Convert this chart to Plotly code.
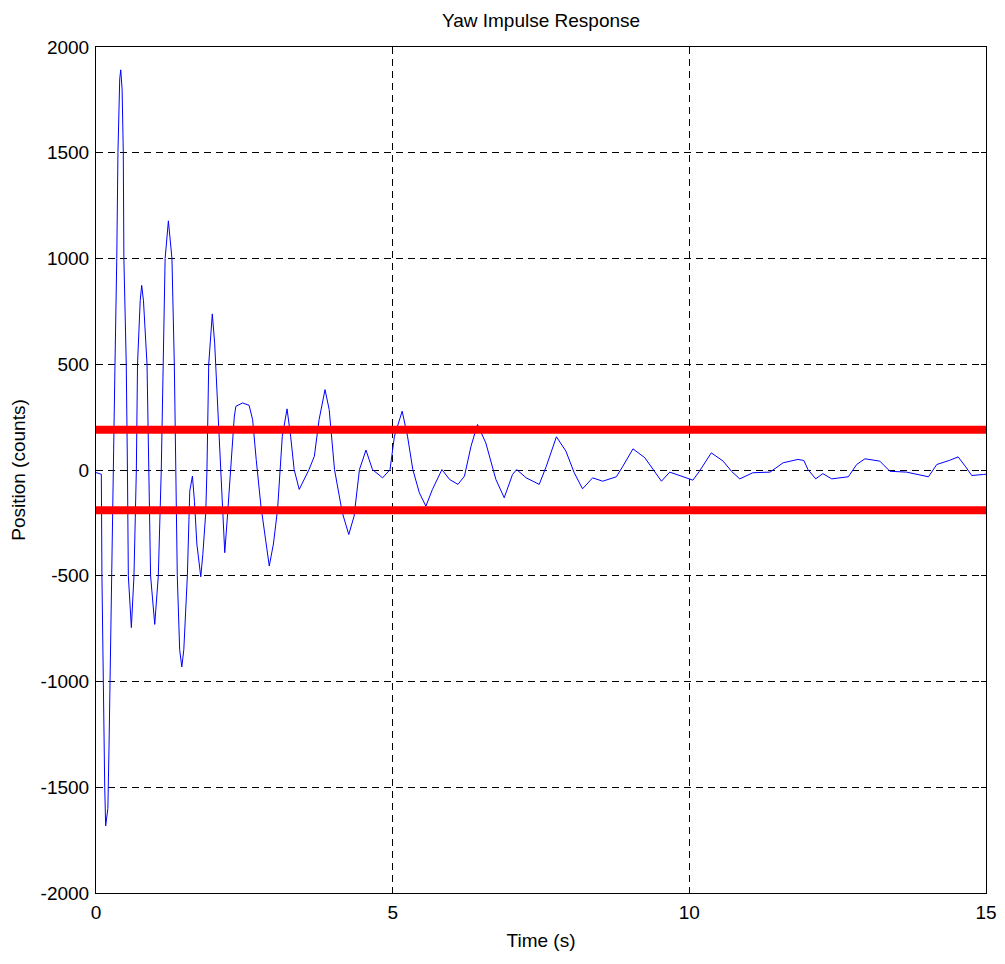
import plotly.graph_objects as go

# Time (s) and position (counts)
time_s = [
    0.00, 0.05, 0.09, 0.10, 0.12, 0.147, 0.163, 0.20, 0.22, 0.235, 0.265, 0.29,
    0.32, 0.35, 0.37, 0.40, 0.417, 0.44, 0.46, 0.47, 0.51, 0.53,
    0.545, 0.596, 0.64, 0.68, 0.70, 0.745, 0.77, 0.80, 0.86, 0.89,
    0.92, 0.99, 1.05, 1.10, 1.13, 1.165, 1.22, 1.28, 1.32, 1.34,
    1.37, 1.41, 1.446, 1.48, 1.54, 1.58, 1.625, 1.66, 1.70, 1.766, 1.80, 1.85,
    1.87, 1.90, 1.96, 2.00, 2.05, 2.10, 2.17, 2.22, 2.27, 2.33, 2.357, 2.47,
    2.58, 2.64, 2.70, 2.78, 2.92, 2.99, 3.06, 3.10, 3.14, 3.22, 3.28, 3.34,
    3.425, 3.59, 3.68, 3.76, 3.86, 3.93, 4.02, 4.15, 4.26, 4.35, 4.44, 4.55,
    4.66, 4.83, 4.955, 5.03, 5.16, 5.25, 5.34, 5.45, 5.56, 5.67, 5.83, 5.96,
    6.10, 6.21, 6.32, 6.43, 6.57, 6.74, 6.88, 7.02, 7.09, 7.25, 7.47, 7.59,
    7.76, 7.92, 8.06, 8.20, 8.37, 8.54, 8.77, 8.88, 9.05, 9.25, 9.39, 9.53,
    9.67, 9.84, 10.06, 10.17, 10.37, 10.57, 10.71, 10.85, 11.07, 11.36, 11.58,
    11.83, 11.93, 12.00, 12.13, 12.25, 12.40, 12.68, 12.82, 12.96, 13.21, 13.38,
    13.66, 14.03, 14.17, 14.39, 14.53, 14.65, 14.76, 14.96, 15.00,
]
position_counts = [
    -12, -15, -20, -500, -1000, -1500, -1683, -1600, -1300, -1000, -500, 0,
    500, 1000, 1500, 1850, 1892, 1800, 1500, 1000, 500, 0,
    -500, -745, -500, 0, 500, 800, 873, 800, 500, 0,
    -500, -730, -500, 0, 500, 1000, 1178, 1000, 500, 0,
    -500, -850, -931, -850, -500, -100, -29, -150, -350, -505, -400, -200,
    0, 500, 738, 600, 300, 0, -391, -200, 0, 250, 301, 317,
    306, 238, 50, -171, -454, -350, -187, 0, 160, 289, 160, 2,
    -92, 2, 65, 238, 380, 286, 2, -200, -305, -218, 2, 94,
    2, -37, 2, 160, 278, 160, 2, -108, -171, -92, 2, -45,
    -68, -29, 112, 215, 128, -45, -131, -21, 2, -37, -68, 18,
    157, 89, -13, -89, -37, -53, -32, 18, 100, 58, 2, -53,
    -10, -26, -48, -6, 81, 42, -6, -42, -13, -10, 34,
    50, 45, 2, -42, -17, -42, -32, 26, 53, 42, -6,
    -10, -32, 26, 46, 62, 18, -26, -21, -20,
]

# Tolerance band limits (counts)
band_time = [0, 15]
upper_limit = [190, 190]
lower_limit = [-190, -190]

x_ticks = [0, 5, 10, 15]
x_tick_labels = ["0", "5", "10", "15"]
y_ticks = [-2000, -1500, -1000, -500, 0, 500, 1000, 1500, 2000]
y_tick_labels = ["-2000", "-1500", "-1000", "-500", "0", "500", "1000", "1500", "2000"]

FONT = "Liberation Sans, Arial, sans-serif"
FS = 19

# The page body has an 8px default margin, so the figure is sized to fit inside it.
W, H = 989, 948

fig = go.Figure()
fig.add_trace(go.Scatter(x=time_s, y=position_counts, mode="lines",
                         line=dict(color="#0000FF", width=1), showlegend=False))
fig.add_trace(go.Scatter(x=band_time, y=upper_limit, mode="lines",
                         line=dict(color="#FF0000", width=8), showlegend=False))
fig.add_trace(go.Scatter(x=band_time, y=lower_limit, mode="lines",
                         line=dict(color="#FF0000", width=8), showlegend=False))

axis_common = dict(
    showline=True, linecolor="black", linewidth=1, mirror="ticks",
    ticks="inside", ticklen=5, tickcolor="black",
    showgrid=True, gridcolor="black", gridwidth=1, griddash="7px,5px",
    zeroline=False, automargin=False,
    tickfont=dict(family=FONT, size=FS, color="black"),
)

fig.update_layout(
    width=W, height=H,
    paper_bgcolor="white", plot_bgcolor="white",
    margin=dict(l=88, r=11, t=39, b=63),
    title=dict(text="Yaw Impulse Response", x=0.5, xref="paper", xanchor="center",
               y=1 - 12 / H, yref="container", yanchor="middle",
               font=dict(family=FONT, size=FS, color="black")),
    xaxis=dict(range=[0, 15], tickvals=x_ticks, ticktext=x_tick_labels,
               ticklabelstandoff=2,
               title=dict(text="Time (s)", standoff=11,
                          font=dict(family=FONT, size=FS, color="black")),
               **axis_common),
    yaxis=dict(range=[-2000, 2000], tickvals=y_ticks, ticktext=y_tick_labels,
               ticklabelstandoff=2,
               title=dict(text="Position (counts)", standoff=30,
                          font=dict(family=FONT, size=FS, color="black")),
               **axis_common),
)

fig.write_html("out.html")
